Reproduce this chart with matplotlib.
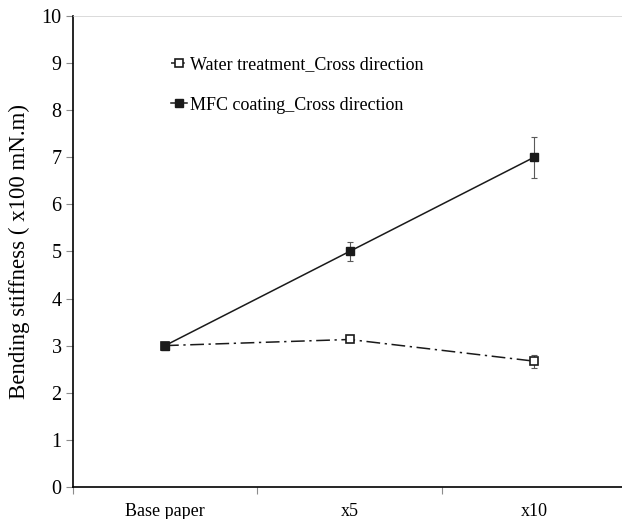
import numpy as np
import matplotlib.pyplot as plt

plt.rcParams['font.family'] = ['Liberation Serif', 'DejaVu Serif']

categories = ['Base paper', 'x5', 'x10']
water = [3.0, 3.13, 2.67]
water_err = [0.0, 0.05, 0.14]
mfc = [3.0, 5.0, 7.0]
mfc_err = [0.0, 0.2, 0.44]

x = np.arange(1, len(categories) + 1)

fig = plt.figure(figsize=(6.22, 5.19), dpi=100)
ax = fig.add_axes([0.117, 0.062, 0.883, 0.907])

ax.errorbar(x, water, yerr=water_err, fmt='none', ecolor='0.35', elinewidth=0.8,
            capsize=2, capthick=0.8, zorder=2)
ax.errorbar(x, mfc, yerr=mfc_err, fmt='none', ecolor='0.35', elinewidth=0.8,
            capsize=2, capthick=0.8, zorder=2)
ax.plot(x, water, color='0.1', linestyle=(0, (9, 3, 1.5, 3)), linewidth=1.1,
        marker='s', markersize=6, markerfacecolor='white', markeredgecolor='0.1',
        markeredgewidth=1.2, label='Water treatment_Cross direction', zorder=3)
ax.plot(x, mfc, color='0.1', linestyle='-', linewidth=1.1,
        marker='s', markersize=6, markerfacecolor='0.1', markeredgecolor='0.1',
        label='MFC coating_Cross direction', zorder=4)

ax.set_xlim(0.5, 3.477)
ax.set_ylim(0, 10)
ax.set_yticks(np.arange(0, 11, 1))
ax.set_xticks(x)
ax.set_xticklabels(categories)
ax.set_xticks([0.5, 1.5, 2.5], minor=True)
ax.tick_params(axis='x', which='major', length=0, pad=12, labelsize=13)
ax.tick_params(axis='x', which='minor', length=5, color='0.55', width=0.8)
ax.tick_params(axis='y', length=5, color='0.55', width=0.8, labelsize=14.5, pad=3)

ax.spines['right'].set_visible(False)
ax.spines['top'].set_color('0.8')
ax.spines['top'].set_linewidth(0.5)
ax.spines['left'].set_linewidth(1.2)
ax.spines['bottom'].set_linewidth(1.2)

ax.set_ylabel('Bending stiffness ( x100 mN.m)', fontsize=16.5, labelpad=8)

ax.legend(loc='upper left', bbox_to_anchor=(0.165, 0.93), frameon=False,
          fontsize=13, handlelength=0.9, handletextpad=0.15, labelspacing=1.3,
          borderaxespad=0)

fig.savefig('out.png', dpi=100)
